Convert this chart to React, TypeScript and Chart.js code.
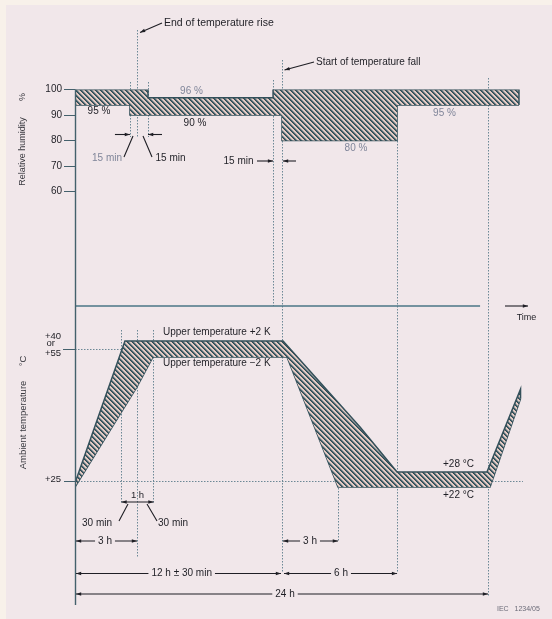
import React, { useEffect, useRef } from 'react';
import { Chart, registerables, LinearScale } from 'chart.js';

// ---------------- data (time in hours, RH in %, temperature in °C) ----------------
const RH_UPPER_T = [0, 4.24, 4.24, 11.5, 11.5, 25.78, 25.78];
const RH_UPPER_V = [100, 100, 96, 96, 100, 100, 95];
const RH_LOWER_T = [0, 3.19, 3.19, 12.02, 12.02, 18.7, 18.7, 25.78];
const RH_LOWER_V = [95, 95, 90, 90, 80, 80, 95, 95];

const TEMP_UPPER_T = [0, 2.9, 12.08, 16.55, 18.7, 23.92, 25.87, 25.87];
const TEMP_UPPER_V = [24, 57, 57, 37.8, 28, 28, 46, 43.9];
const TEMP_LOWER_T = [0, 3.6, 4.53, 12.31, 15.27, 24.1, 25.87];
const TEMP_LOWER_V = [22, 46.5, 53, 53, 22, 22, 43.9];

const RH_TICKS = [60, 70, 80, 90, 100];
const TEMP_LEVELS = [25, 55];

// schematic (non-linear) axis definitions: value -> figure row
const AREA_TOP = 89.5;
const AREA_BOTTOM = 605;
const RH_KNOTS = [[60, 191.5], [70, 166], [80, 140.5], [90, 115], [95, 105], [96, 97.7], [100, 89.5]];
const TEMP_KNOTS = [[22, 487], [25, 481], [28, 472], [53, 357], [57, 341]];
const KNOTS: Record<string, number[][]> = { yRH: RH_KNOTS, yT: TEMP_KNOTS };

// ---------------- styles ----------------
const BG = '#f1e7ea';
const TEXT = '#1f1f25';
const GRAY = '#80869a';
const EDGE = '#34505a';
const AXIS = '#44616c';
const GUIDE = '#6c8896';
const SEP = '#4a7686';
const FONT = '"Liberation Sans", Arial, Helvetica, sans-serif';

function interp(knots: number[][], v: number, a: number, b: number) {
  const n = knots.length;
  const inc = knots[n - 1][a] > knots[0][a];
  let i = 0;
  for (i = 0; i < n - 2; i++) {
    const next = knots[i + 1][a];
    if (inc ? v <= next : v >= next) break;
  }
  const k0 = knots[i], k1 = knots[i + 1];
  return k0[b] + ((v - k0[a]) * (k1[b] - k0[b])) / (k1[a] - k0[a]);
}

class SchematicScale extends LinearScale {
  static id = 'schematic';
  static defaults = {};
  getPixelForValue(value: any) {
    if (value === null || value === undefined || isNaN(value)) return NaN;
    const k = KNOTS[(this as any).id];
    const y = interp(k, +value, 0, 1);
    const s: any = this;
    return s.top + ((y - AREA_TOP) * (s.bottom - s.top)) / (AREA_BOTTOM - AREA_TOP);
  }
  getValueForPixel(pixel: number) {
    const s: any = this;
    const y = AREA_TOP + ((pixel - s.top) * (AREA_BOTTOM - AREA_TOP)) / (s.bottom - s.top);
    const k = KNOTS[s.id];
    return interp(k, y, 1, 0);
  }
}

Chart.register(...registerables, SchematicScale as any);

function makeHatch(): CanvasPattern | string {
  const c = document.createElement('canvas');
  const p = 5;
  c.width = p;
  c.height = p;
  const g = c.getContext('2d');
  if (!g) return '#999';
  const cols = ['#304b54', '#47646e', '#9aa0a2', '#eacec7', '#e2c5bf'];
  for (let i = 0; i < p; i++) {
    for (let j = 0; j < p; j++) {
      const d = (((i - j) % p) + p) % p;
      g.fillStyle = cols[d];
      g.fillRect(i, j, 1, 1);
    }
  }
  return g.createPattern(c, 'repeat') || '#999';
}

function head(ctx: CanvasRenderingContext2D, x: number, y: number, ang: number, size = 5.5) {
  ctx.beginPath();
  ctx.moveTo(x, y);
  ctx.lineTo(x - size * Math.cos(ang - 0.33), y - size * Math.sin(ang - 0.33));
  ctx.lineTo(x - size * Math.cos(ang + 0.33), y - size * Math.sin(ang + 0.33));
  ctx.closePath();
  ctx.fill();
}

function arrow(ctx: CanvasRenderingContext2D, x1: number, y1: number, x2: number, y2: number, hs: boolean, he: boolean) {
  ctx.beginPath();
  ctx.moveTo(x1, y1);
  ctx.lineTo(x2, y2);
  ctx.stroke();
  if (he) head(ctx, x2, y2, Math.atan2(y2 - y1, x2 - x1));
  if (hs) head(ctx, x1, y1, Math.atan2(y1 - y2, x1 - x2));
}

function txt(ctx: CanvasRenderingContext2D, s: string, x: number, y: number, size: number, align: CanvasTextAlign = 'left', color = TEXT) {
  ctx.font = `${size}px ${FONT}`;
  ctx.fillStyle = color;
  ctx.textAlign = align;
  ctx.textBaseline = 'middle';
  ctx.fillText(s, x, y);
}

function vtxt(ctx: CanvasRenderingContext2D, s: string, x: number, y: number, size: number, color = TEXT) {
  ctx.save();
  ctx.translate(x, y);
  ctx.rotate(-Math.PI / 2);
  txt(ctx, s, 0, 0, size, 'center', color);
  ctx.restore();
}

function dim(ctx: CanvasRenderingContext2D, x1: number, x2: number, y: number, label: string, lx: number) {
  ctx.strokeStyle = TEXT;
  ctx.fillStyle = TEXT;
  ctx.lineWidth = 1.1;
  arrow(ctx, x1, y, x2, y, true, true);
  ctx.font = `10px ${FONT}`;
  const w = ctx.measureText(label).width;
  ctx.fillStyle = BG;
  ctx.fillRect(lx - w / 2 - 3, y - 6, w + 6, 12);
  txt(ctx, label, lx, y, 10, 'center');
}

const decor = {
  id: 'decor',
  beforeDraw(chart: any) {
    const { ctx, width, height } = chart;
    ctx.save();
    ctx.fillStyle = BG;
    ctx.fillRect(0, 0, width, height);
    ctx.fillStyle = '#f8f1ea';
    ctx.fillRect(0, 0, width, 5);
    ctx.fillRect(0, 0, 6, height);
    ctx.restore();
  },
  beforeDatasetsDraw(chart: any) {
    const { ctx, chartArea } = chart;
    const xs = chart.scales.x;
    const yT = chart.scales.yT;
    const X = (t: number) => xs.getPixelForValue(t);
    const guides: number[][] = [
      [3.6, 30, 137], [3.19, 82, 137], [4.24, 82, 137], [11.5, 80, 306], [12.02, 60, 573],
      [18.7, 141, 573], [23.98, 78, 597], [2.67, 330, 503], [3.6, 330, 557], [4.53, 330, 503],
      [15.27, 488, 541],
    ];
    ctx.save();
    ctx.strokeStyle = GUIDE;
    ctx.lineWidth = 1;
    ctx.setLineDash([1.5, 1.5]);
    for (const [t, y0, y1] of guides) {
      const px = Math.round(X(t)) + 0.5;
      ctx.beginPath();
      ctx.moveTo(px, y0);
      ctx.lineTo(px, y1);
      ctx.stroke();
    }
    const h1 = Math.round(yT.getPixelForValue(TEMP_LEVELS[1])) + 0.5;
    const h0 = Math.round(yT.getPixelForValue(TEMP_LEVELS[0])) + 0.5;
    ctx.beginPath();
    ctx.moveTo(chartArea.left, h1);
    ctx.lineTo(X(12.1), h1);
    ctx.moveTo(chartArea.left, h0);
    ctx.lineTo(X(26.01), h0);
    ctx.stroke();
    ctx.setLineDash([]);
    ctx.strokeStyle = SEP;
    ctx.lineWidth = 1.5;
    ctx.beginPath();
    ctx.moveTo(chartArea.left, 306);
    ctx.lineTo(X(23.52), 306);
    ctx.stroke();
    ctx.restore();
  },
  afterDraw(chart: any) {
    const { ctx, chartArea } = chart;
    const xs = chart.scales.x;
    const yT = chart.scales.yT;
    const X = (t: number) => xs.getPixelForValue(t);
    ctx.save();
    // axis line
    ctx.strokeStyle = AXIS;
    ctx.lineWidth = 1.4;
    ctx.beginPath();
    ctx.moveTo(chartArea.left + 0.5, chartArea.top);
    ctx.lineTo(chartArea.left + 0.5, chartArea.bottom);
    ctx.stroke();

    // temperature ticks
    ctx.lineWidth = 1;
    const p55 = Math.round(yT.getPixelForValue(55)) + 0.5;
    const p25 = Math.round(yT.getPixelForValue(25)) + 0.5;
    ctx.beginPath();
    ctx.moveTo(63, p55);
    ctx.lineTo(chartArea.left, p55);
    ctx.moveTo(64, p25);
    ctx.lineTo(chartArea.left, p25);
    ctx.stroke();
    txt(ctx, '+40', 45, p55 - 13, 9.5);
    txt(ctx, 'or', 46.5, p55 - 6, 9.5);
    txt(ctx, '+55', 45, p55 + 4, 9.5);
    txt(ctx, '+25', 45, p25 - 2, 9.5);

    // axis titles
    vtxt(ctx, 'Relative humidity', 23, 151.5, 9, '#3a3a40');
    vtxt(ctx, '%', 23, 97, 9, '#3a3a40');
    vtxt(ctx, 'Ambient temperature', 23, 425, 9.5, '#3a3a40');
    vtxt(ctx, '°C', 23, 361, 9.5, '#3a3a40');

    ctx.strokeStyle = TEXT;
    ctx.fillStyle = TEXT;
    ctx.lineWidth = 1.1;

    // top annotations
    txt(ctx, 'End of temperature rise', 164, 23, 10.5);
    ctx.fillStyle = TEXT;
    arrow(ctx, 162, 23, X(3.6) + 3, 32.5, false, true);
    txt(ctx, 'Start of temperature fall', 316, 62, 10);
    ctx.fillStyle = TEXT;
    arrow(ctx, 314, 62, X(12.02) + 2.5, 70, false, true);

    // RH labels
    txt(ctx, '96 %', 191.5, 91, 10, 'center', GRAY);
    txt(ctx, '95 %', 99, 111, 10, 'center');
    txt(ctx, '90 %', 195, 123, 10, 'center');
    txt(ctx, '80 %', 356, 148, 10, 'center', GRAY);
    txt(ctx, '95 %', 444.5, 113, 10, 'center', GRAY);

    // 15 min markers
    ctx.fillStyle = TEXT;
    arrow(ctx, X(3.19) - 15, 134.5, X(3.19), 134.5, false, true);
    arrow(ctx, X(4.24) + 14, 134.5, X(4.24), 134.5, false, true);
    ctx.beginPath();
    ctx.moveTo(124, 157);
    ctx.lineTo(133, 136);
    ctx.moveTo(152, 157);
    ctx.lineTo(143, 136);
    ctx.stroke();
    txt(ctx, '15 min', 107, 158, 10, 'center', GRAY);
    txt(ctx, '15 min', 170.5, 158, 10, 'center');
    txt(ctx, '15 min', 238.5, 161, 10, 'center');
    ctx.fillStyle = TEXT;
    arrow(ctx, 257, 161, X(11.5), 161, false, true);
    arrow(ctx, 296, 161, X(12.02) + 1, 161, false, true);

    // time arrow
    arrow(ctx, 505, 306, 528, 306, false, true);
    txt(ctx, 'Time', 516.7, 318, 9);

    // temperature labels
    txt(ctx, 'Upper temperature +2 K', 163, 332, 10);
    txt(ctx, 'Upper temperature \u22122 K', 163, 363, 10);
    txt(ctx, '+28 °C', 443, 464, 10);
    txt(ctx, '+22 °C', 443, 495, 10);

    // 1 h / 30 min
    ctx.fillStyle = TEXT;
    arrow(ctx, X(2.67) + 0.5, 502, X(4.53) + 0.5, 502, true, true);
    txt(ctx, '1 h', 137.5, 495, 9.5, 'center');
    ctx.fillStyle = TEXT;
    ctx.beginPath();
    ctx.moveTo(119, 521);
    ctx.lineTo(128, 504);
    ctx.moveTo(157, 521);
    ctx.lineTo(147, 504);
    ctx.stroke();
    txt(ctx, '30 min', 97, 523, 10, 'center');
    txt(ctx, '30 min', 173, 523, 10, 'center');

    // dimension lines
    dim(ctx, X(0) + 1, X(3.6), 541, '3 h', 105);
    dim(ctx, X(12.02) + 1, X(15.27), 541, '3 h', 310);
    dim(ctx, X(0) + 1, X(12.02) - 1, 573.5, '12 h \u00b1 30 min', 181.7);
    dim(ctx, X(12.02) + 2, X(18.7), 573.5, '6 h', 341);
    dim(ctx, X(0) + 1, X(23.98), 594, '24 h', 285);

    txt(ctx, 'IEC   1234/05', 497, 609, 7, 'left', '#6b6b78');
    ctx.restore();
  },
};

export default function App() {
  const ref = useRef<HTMLCanvasElement>(null);
  useEffect(() => {
    document.body.style.margin = '0';
    const canvas = ref.current;
    if (!canvas) return;
    const hatch = makeHatch();
    const pts = (ts: number[], vs: number[]) => ts.map((t, i) => ({ x: t, y: vs[i] }));
    const edge = { borderColor: EDGE, borderWidth: 1.5, pointRadius: 0, tension: 0 };
    const chart = new Chart(canvas, {
      type: 'line',
      data: {
        datasets: [
          { ...edge, label: 'RH upper limit', data: pts(RH_UPPER_T, RH_UPPER_V), yAxisID: 'yRH', fill: '+1', backgroundColor: hatch },
          { ...edge, label: 'RH lower limit', data: pts(RH_LOWER_T, RH_LOWER_V), yAxisID: 'yRH', fill: false },
          { ...edge, label: 'Temperature upper limit', data: pts(TEMP_UPPER_T, TEMP_UPPER_V), yAxisID: 'yT', fill: '+1', backgroundColor: hatch },
          { ...edge, label: 'Temperature lower limit', data: pts(TEMP_LOWER_T, TEMP_LOWER_V), yAxisID: 'yT', fill: false },
        ] as any,
      },
      options: {
        animation: false,
        responsive: false,
        maintainAspectRatio: false,
        events: [],
        layout: { padding: { left: 0, top: AREA_TOP, right: 12, bottom: 619 - AREA_BOTTOM } },
        plugins: { legend: { display: false }, tooltip: { enabled: false } },
        scales: {
          x: { type: 'linear', min: 0, max: 27, display: false },
          yRH: {
            type: 'schematic',
            position: 'left',
            min: 0,
            max: 100,
            afterFit: (s: any) => { s.width = 75; },
            afterBuildTicks: (s: any) => { s.ticks = RH_TICKS.map((v) => ({ value: v })); },
            grid: { drawOnChartArea: false, drawTicks: true, tickLength: 11, color: AXIS, lineWidth: 1 },
            border: { display: false },
            ticks: { padding: 2, color: TEXT, font: { family: FONT, size: 10 }, callback: (v: any) => String(v), autoSkip: false },
          },
          yT: { type: 'schematic', position: 'left', min: 0, max: 60, display: false },
        } as any,
      },
      plugins: [decor as any],
    });
    return () => chart.destroy();
  }, []);
  return <canvas ref={ref} width={552} height={619} style={{ display: 'block', width: 552, height: 619 }} />;
}
